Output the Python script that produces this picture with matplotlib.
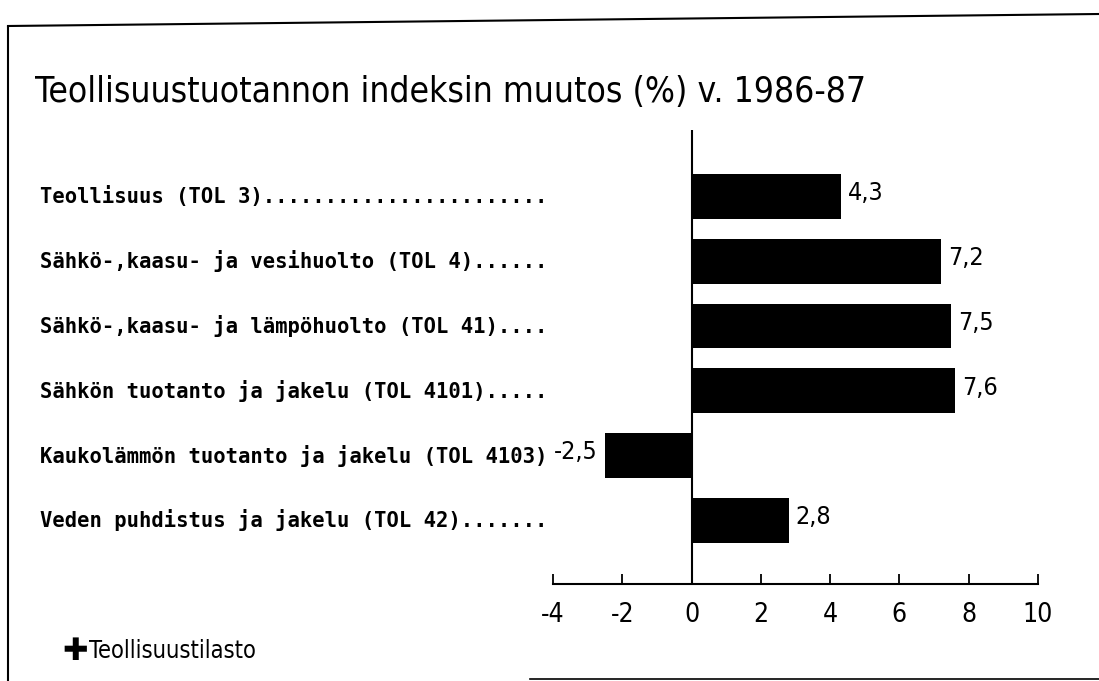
import matplotlib
matplotlib.use('Agg')
import matplotlib.pyplot as plt
import matplotlib.transforms as mtransforms
from matplotlib import font_manager
from matplotlib.lines import Line2D

labels = ['Teollisuus (TOL 3).......................',
          'Sähkö-,kaasu- ja vesihuolto (TOL 4)......',
          'Sähkö-,kaasu- ja lämpöhuolto (TOL 41)....',
          'Sähkön tuotanto ja jakelu (TOL 4101).....',
          'Kaukolämmön tuotanto ja jakelu (TOL 4103)',
          'Veden puhdistus ja jakelu (TOL 42).......']
values = [4.3, 7.2, 7.5, 7.6, -2.5, 2.8]
value_text = ['4,3', '7,2', '7,5', '7,6', '-2,5', '2,8']
xticks = [-4, -2, 0, 2, 4, 6, 8, 10]
title = 'Teollisuustuotannon indeksin muutos (%) v. 1986-87'

# pick the narrowest face we have
fp = font_manager.FontProperties(family='DejaVu Sans', stretch='condensed')
if 'Condensed' in font_manager.findfont(fp, fallback_to_default=True):
    nfont = dict(family='DejaVu Sans', fontstretch='condensed')
else:
    nfont = dict(family='Liberation Sans')

W, H = 1099, 681
fig = plt.figure(figsize=(W / 100, H / 100), dpi=100)
renderer = fig.canvas.get_renderer()


def fit_width(t, width_px):
    # shrink/grow a text so that it spans width_px pixels
    w = t.get_window_extent(renderer).width
    t.set_fontsize(t.get_fontsize() * width_px / w)


# frame lines of the scanned page
fig.add_artist(Line2D([8 / W, 8 / W], [1 - 27 / H, 0], color='black', lw=1.5))
fig.add_artist(Line2D([8 / W, 1], [1 - 26 / H, 1 - 14 / H], color='black', lw=1.5))
fig.add_artist(Line2D([530 / W, 1], [1 - 679 / H, 1 - 679 / H], color='black', lw=1.2))

tt = fig.text(35 / W, 1 - 92 / H, title, fontsize=30, va='center', ha='left', **nfont)
fit_width(tt, 830)

ax = fig.add_axes([553 / W, 1 - 584 / H, 485 / W, 454 / H])
y = list(range(len(values)))
ax.barh(y, values, height=0.69, color='black')
ax.set_xlim(-4, 10)
ax.set_ylim(5.985, -1.03)
ax.axvline(0, color='black', lw=1.5)

for s in ['top', 'right', 'left']:
    ax.spines[s].set_visible(False)
ax.spines['bottom'].set_linewidth(1.5)
ax.set_yticks([])
ax.set_xticks(xticks)
ax.set_xticklabels([str(t) for t in xticks], fontsize=19, **nfont)
ax.tick_params(axis='x', direction='in', length=7, width=1.3, pad=13)
ax.set_xticks([-4, 10], minor=True)
ax.tick_params(axis='x', which='minor', direction='in', length=11, width=1.3)

for yi, v, t in zip(y, values, value_text):
    if v >= 0:
        ax.text(v + 0.2, yi - 0.05, t, ha='left', va='center',
                fontsize=18, **nfont)
    else:
        ax.text(v - 0.2, yi - 0.05, t, ha='right', va='center',
                fontsize=18, **nfont)

# category labels, left aligned at the page margin
lab_trans = mtransforms.blended_transform_factory(fig.transFigure, ax.transData)
for yi, lab in zip(y, labels):
    ax.text(40 / W, yi, lab, family='DejaVu Sans Mono', fontsize=14.8,
            fontweight='bold', ha='left', va='center', transform=lab_trans)

# logo
fig.text(75 / W, 1 - 651 / H, '\u271A', fontsize=22, ha='center', va='center',
         family=['DejaVu Sans'])
fig.text(89 / W, 1 - 651 / H, 'Teollisuustilasto', fontsize=17,
         ha='left', va='center', **nfont)

fig.savefig('out.png', dpi=100)
